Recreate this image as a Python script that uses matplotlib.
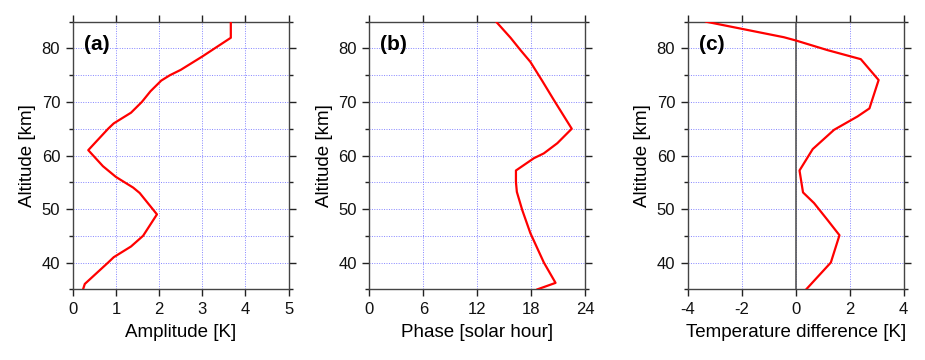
import matplotlib
matplotlib.use("Agg")
import matplotlib.pyplot as plt
from matplotlib.ticker import MultipleLocator

plt.rcParams['font.family'] = ['Liberation Sans', 'DejaVu Sans']
plt.rcParams['axes.unicode_minus'] = False

# (a) amplitude profile
amp_alt = [85, 82, 78.5, 76, 75, 74, 72, 70, 68, 66, 65, 61, 58, 56, 54, 53, 49, 45, 43, 41, 40, 36, 35]
amp_val = [3.66, 3.66, 3.0, 2.5, 2.25, 2.05, 1.8, 1.6, 1.35, 0.95, 0.82, 0.36, 0.7, 1.0, 1.4, 1.55,
           1.95, 1.63, 1.35, 0.95, 0.82, 0.28, 0.24]

# (b) phase profile
ph_alt = [85, 82, 79.7, 77.5, 74, 70.4, 65, 62.3, 60.4, 59.5, 57.2, 55, 53.2, 49.8, 45.5, 40, 36.2, 35]
ph_val = [14.1, 15.7, 16.8, 17.9, 19.2, 20.5, 22.5, 20.9, 19.4, 18.3, 16.3, 16.3, 16.4, 17.0, 17.9,
          19.4, 20.7, 18.7]

# (c) temperature difference profile
td_alt = [85, 82.1, 81.5, 79.7, 78, 74.1, 68.8, 67.3, 64.8, 61.2, 57.2, 53.1, 51.1, 48, 45.1, 40, 35]
td_val = [-3.32, -0.44, 0.0, 1.17, 2.41, 3.07, 2.73, 2.29, 1.42, 0.63, 0.14, 0.27, 0.68, 1.17, 1.62,
          1.30, 0.39]

panels = [
    dict(x=amp_val, y=amp_alt, xlim=(0, 5), xstep=1, xlabel='Amplitude [K]', tag='(a)'),
    dict(x=ph_val, y=ph_alt, xlim=(0, 24), xstep=6, xlabel='Phase [solar hour]', tag='(b)'),
    dict(x=td_val, y=td_alt, xlim=(-4, 4), xstep=2, xlabel='Temperature difference [K]', tag='(c)'),
]
lefts = [0.0786, 0.3992, 0.7435]

fig = plt.figure(figsize=(9.25, 3.6), dpi=100)

for p, left in zip(panels, lefts):
    ax = fig.add_axes([left, 0.1964, 0.2335, 0.7433])
    ax.set_xlim(*p['xlim'])
    ax.set_ylim(35, 85)
    ax.xaxis.set_major_locator(MultipleLocator(p['xstep']))
    ax.yaxis.set_major_locator(MultipleLocator(10))
    ax.yaxis.set_minor_locator(MultipleLocator(5))
    ax.grid(True, which='both', color='#6666ff', linestyle=(0, (1, 1.5)), linewidth=0.7, alpha=0.8)
    ax.set_axisbelow(True)
    if p['tag'] == '(c)':
        ax.axvline(0, color='#555555', linewidth=1.2, zorder=1.5)
    ax.plot(p['x'], p['y'], color='red', linewidth=1.6, zorder=3)
    ax.tick_params(which='both', direction='out', top=True, right=True, labelsize=12,
                   color='#222222', labelcolor='#111111')
    ax.tick_params(which='major', length=5, width=1, pad=4)
    ax.tick_params(which='minor', length=3, width=1)
    for s in ax.spines.values():
        s.set_color('#444444')
        s.set_linewidth(1)
    ax.set_xlabel(p['xlabel'], fontsize=13.5, labelpad=5)
    ax.set_ylabel('Altitude [km]', fontsize=13.5, labelpad=4)
    ax.text(0.052, 0.913, p['tag'], transform=ax.transAxes, fontsize=15, fontweight='bold',
            va='center', ha='left')

fig.savefig('out.png', dpi=100)
